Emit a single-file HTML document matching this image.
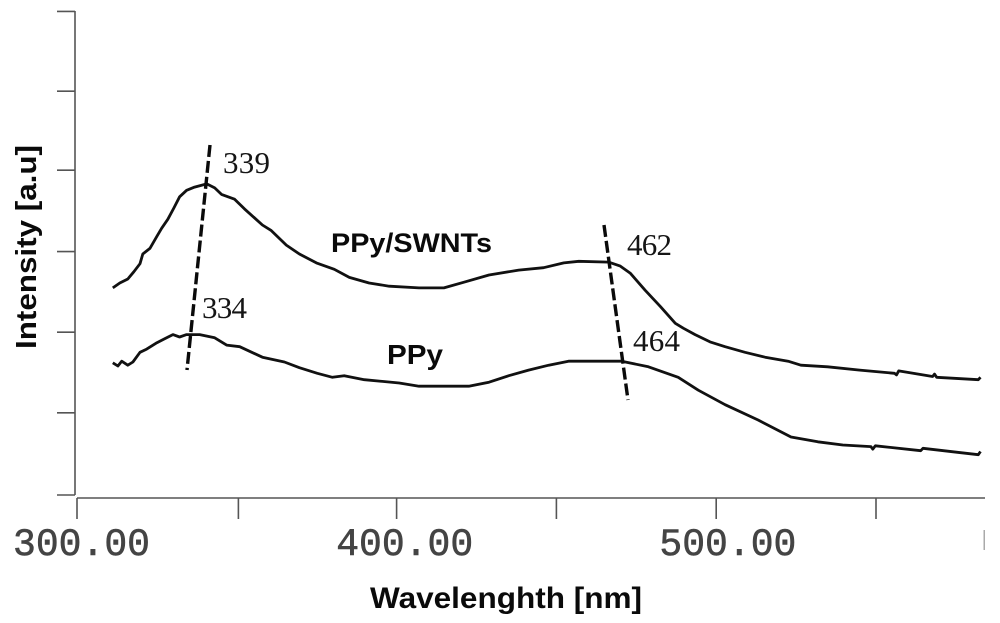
<!DOCTYPE html>
<html lang="en">
<head>
<meta charset="utf-8">
<title>PPy and PPy/SWNTs absorption spectra</title>
<style>
html,body{margin:0;padding:0;background:#fff;width:1000px;height:623px;overflow:hidden}
svg{display:block}
.tick-label{font-family:"Liberation Mono",monospace;font-size:39px;fill:#444;stroke:#444;stroke-width:.6px}
.axis-title,.series-label{font-family:"Liberation Sans",sans-serif;font-weight:bold;fill:#0a0a0a}
.peak{font-family:"Liberation Serif",serif;font-size:31px;fill:#151515}
</style>
</head>
<body>
<svg id="chart" width="1000" height="623" viewBox="0 0 1000 623" xmlns="http://www.w3.org/2000/svg">
<rect width="1000" height="623" fill="#fff"/>
<g id="axes"></g>
<g id="marks"></g>
<line x1="210" y1="145" x2="187" y2="370" stroke="#0a0a0a" stroke-width="3.4" stroke-dasharray="12 4"/>
<line x1="604" y1="225" x2="628" y2="400" stroke="#0a0a0a" stroke-width="3.4" stroke-dasharray="12 4"/>
<text x="223" y="173" class="peak" textLength="47">339</text>
<text x="627" y="255" class="peak" textLength="45">462</text>
<text x="202" y="318" class="peak" textLength="45">334</text>
<text x="633" y="351" class="peak" textLength="47">464</text>
<text x="331" y="252" class="series-label" font-size="27" textLength="161" lengthAdjust="spacingAndGlyphs">PPy/SWNTs</text>
<text x="387" y="364" class="series-label" font-size="28" textLength="56" lengthAdjust="spacingAndGlyphs">PPy</text>
<text x="506" y="608" text-anchor="middle" class="axis-title" font-size="30" textLength="272" lengthAdjust="spacingAndGlyphs">Wavelenghth [nm]</text>
<text transform="translate(36 247) rotate(-90)" text-anchor="middle" class="axis-title" font-size="29" textLength="204" lengthAdjust="spacingAndGlyphs">Intensity [a.u]</text>
<rect x="983.5" y="530" width="1.5" height="20" fill="#aaa"/>
</svg>
<script>
const xTickValues = [300, 350.5, 400, 450, 500, 550];
const xTickLabels = ["300.00", "", "400.00", "", "500.00", ""];
const yTickValues = [0, 102, 202, 302, 403, 501, 600];

const swntWavelengths = [311.2,313.4,315.9,317.8,319.7,320.6,322.8,325.0,326.5,328.4,330.3,332.1,334.3,336.8,340.6,343.1,345.2,349.3,352.4,358.0,360.8,365.5,369.6,374.9,380.5,385.2,391.4,397.7,407.0,414.8,421.1,428.9,438.2,446.0,452.3,457.0,466.3,470.0,473.2,477.8,482.5,487.2,489.7,493.4,498.1,502.8,509.0,515.3,522.5,526.5,534.9,544.9,555.8,556.4,557.1,567.7,568.3,569.0,582.0,582.7];
const swntIntensity = [257,263,268,277,287,299,306,321,331,342,356,370,378,382,386,381,373,367,355,335,328,310,299,288,280,270,263,259,257,257,264,273,279,282,288,290,289,284,275,254,234,213,207,199,190,184,177,171,166,161,159,155,151,149,154,147,150,146,143,146];

const ppyWavelengths = [311.2,312.8,314.0,315.9,317.5,319.7,321.8,325.0,327.5,330.0,332.1,334.3,338.4,343.1,346.8,350.9,358.0,364.9,369.6,375.2,379.9,383.6,389.9,400.8,407.0,422.6,428.9,435.1,441.3,447.6,453.8,470.4,478.8,488.1,494.4,502.8,513.1,523.4,531.8,539.6,548.4,549.0,549.8,564.0,564.7,575.5,582.0,582.7];
const ppyIntensity = [164,160,166,161,165,177,181,189,194,199,196,199,199,195,186,184,171,165,158,151,146,148,143,139,135,135,140,148,155,161,166,166,159,146,130,112,93,72,66,62,60,57,61,55,58,53,50,54];

const NS = "http://www.w3.org/2000/svg";
function xScale(w) { return 77 + (w - 300) * 3.196; }
function yScale(v) { return 495 - v * 0.806; }
function labelX(w) { return 81.5 + (w - 300) * 3.232; }
function make(tag, attrs, parent) {
  const el = document.createElementNS(NS, tag);
  for (const k in attrs) el.setAttribute(k, attrs[k]);
  parent.appendChild(el);
  return el;
}
const axes = document.getElementById("axes");
const marks = document.getElementById("marks");
const axisStyle = { stroke: "#555", "stroke-width": 1.6 };

const xAxisLine = make("line", Object.assign({ x1: 77, y1: 498, x2: 985, y2: 498 }, axisStyle), axes);


const yAxisLine = make("line", Object.assign({ x1: 75, y1: 11, x2: 75, y2: 495 }, axisStyle), axes);



xTickValues.forEach(function (w, i) {
  const t = make("line", Object.assign({ x1: xScale(w), y1: 498, x2: xScale(w), y2: 519 }, axisStyle), axes);
  
  
  if (xTickLabels[i]) {
    const label = make("text", { x: labelX(w), y: 555, "text-anchor": "middle", class: "tick-label", textLength: 137, lengthAdjust: "spacingAndGlyphs" }, axes);
    label.textContent = xTickLabels[i];
    
    
  }
});
yTickValues.forEach(function (v) {
  const t = make("line", Object.assign({ x1: 57, y1: yScale(v), x2: 75, y2: yScale(v) }, axisStyle), axes);
  
  
});
function drawSeries(xs, ys) {
  const d = xs.map(function (w, i) {
    return (i ? "L" : "M") + xScale(w).toFixed(1) + " " + yScale(ys[i]).toFixed(1);
  }).join(" ");
  return make("path", { d: d, fill: "none", stroke: "#111", "stroke-width": 2.8, "stroke-linejoin": "round" }, marks);
}
const swntLine = drawSeries(swntWavelengths, swntIntensity);


const ppyLine = drawSeries(ppyWavelengths, ppyIntensity);


</script>
</body>
</html>
